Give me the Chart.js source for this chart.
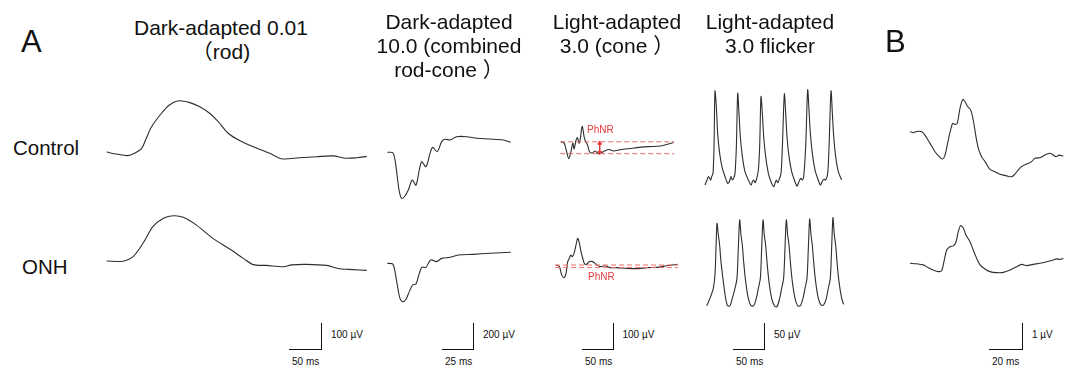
<!DOCTYPE html>
<html>
<head>
<meta charset="utf-8">
<script src="https://cdn.jsdelivr.net/npm/chart.js@4.4.1/dist/chart.umd.min.js"></script>
<style>
  body { margin: 0; background: #fff; }
  #fig { position: relative; width: 1070px; height: 368px; overflow: hidden;
         font-family: "Liberation Sans", Arial, "Noto Sans CJK SC", sans-serif; color: #111; }
  .txt { position: absolute; white-space: nowrap; }
  .title { font-size: 21px; line-height: 24px; text-align: center; width: 220px; }
  .small { font-size: 10px; line-height: 12px; }
  .bar { position: absolute; background: #111; }
</style>
</head>
<body>
<div id="fig"></div>
<script>
// Dark-adapted 0.01 (rod) : ms / µV
const rodCtrlT = [0, 15, 32, 42, 53, 60, 68, 83, 95, 109, 126, 141, 156, 169, 184, 202, 222, 247, 265, 292, 318, 343, 361, 379, 394];
const rodCtrlV = [0, -8, -14, -5, 14, 53, 97, 149, 181, 197, 190, 174, 149, 117, 72, 43, 20, -5, -26, -22, -18, -15, -24, -22, -17];
const rodOnhT = [0, 25, 40, 55, 70, 86, 101, 116, 136, 161, 187, 207, 222, 242, 268, 280, 303, 333, 353, 373, 394];
const rodOnhV = [0, -1, 17, 68, 132, 164, 174, 168, 138, 87, 45, 10, -14, -17, -22, -15, -13, -17, -30, -33, -36];

// Dark-adapted 10.0 (combined rod-cone)
const mixCtrlT = [0, 4.2, 6, 7.8, 9.4, 11.2, 13.8, 16.4, 19.5, 22.4, 25, 26.9, 30.2, 33.4, 35.4, 39, 42.5, 45, 49, 54.2, 62, 69.8, 80.2, 90.6, 96.4];
const mixCtrlV = [0, -3, -59, -188, -303, -354, -336, -290, -213, -252, -136, -72, -111, -8, 38, 5, 82, 100, 95, 120, 120, 108, 102, 95, 77];
const mixOnhT = [0, 4.2, 6, 7.8, 9.9, 12, 14.6, 17.2, 19.8, 22.4, 25, 26.9, 30.2, 32.8, 34.6, 38.5, 42.5, 49, 55.5, 67.2, 80.2, 96.4];
const mixOnhV = [0, -5, -64, -167, -270, -296, -277, -218, -167, -159, -77, -31, -31, 13, 26, 13, 38, 46, 64, 69, 77, 85];

// Light-adapted 3.0 (cone)
const coneCtrlT = [0, 5.3, 9.5, 13.2, 16.9, 20, 22.3, 25.4, 28, 30.7, 32.8, 36, 39.7, 42.3, 45, 48.7, 53, 58.2, 63.5, 68.8, 74.1, 82, 90, 100.6, 121.8, 148.3, 169.5, 192.3];
const coneCtrlV = [0, -6, -45, -77, -45, -6, -32, 6, 19, -6, 13, 71, 19, 0, -13, -45, -51, -42, -54, -51, -42, -35, -42, -36, -29, -22, -19, -3];
const coneOnhT = [0, 5.3, 9, 12.7, 15.9, 18.6, 21.2, 23.3, 25.9, 28.6, 31.8, 34.4, 37.1, 39.7, 42.4, 45, 48.7, 53, 58.3, 63.6, 69.9, 77.9, 85.9, 96.5, 112.4, 128.3, 144.2, 160.1, 176, 193.5];
const coneOnhV = [0, -6, -38, -49, -32, 13, 26, 38, 32, 45, 77, 103, 84, 51, 26, 6, 3, 13, 13, 3, -6, -3, -10, -10, -13, -14, -10, -9, -3, 3];
const phnrCtrlLevels = [0, -54];
const phnrOnhLevels = [0, -10];
const phnrSpan = [-1.5, 193.5];
const phnrArrowT = 66;

// Light-adapted 3.0 flicker
const flkCtrlT = [0, 3.1, 5.2, 7.3, 8.9, 10.4, 12.5, 14.1, 15.6, 17.7, 19.8, 22.9, 27.1, 31.3, 35.4, 38, 40.6, 42.7, 44.8, 46.9, 49, 51.1, 53.1, 55.2, 58.4, 62.5, 67.7, 71.9, 74, 76.1, 78.1, 80.2, 83.4, 85.4, 87.5, 89.6, 91.7, 94.8, 99, 103.1, 107.3, 109.4, 111.5, 113.6, 115.6, 118.8, 120.9, 124, 126.1, 128.1, 131.3, 135.4, 139.6, 143.8, 145.9, 147.9, 150, 152.1, 154.2, 157.3, 160.4, 162.5, 164.6, 167.7, 171.9, 176, 180.2, 182.3, 184.4, 186.5, 188.6, 191.7, 193.8, 196.9, 199, 201.1, 204.2, 208.3, 213.5];
const flkCtrlV = [0, 9.6, 16, 12.8, 9.6, 16, 22.4, 73.7, 180.7, 150.6, 99.3, 60.9, 32, 16, 3.2, 6.4, 16, 9.6, 12.8, 22.4, 73.7, 176.3, 137.8, 92.9, 54.5, 25.6, 9.6, 0, 6.4, 9.6, 4.5, 9.6, 28.8, 73.7, 169.9, 137.8, 92.9, 54.5, 22.4, 6.4, -3.2, 3.2, 9.6, 4.5, 9.6, 22.4, 73.7, 175, 137.8, 92.9, 54.5, 25.6, 9.6, -2, 3.2, 9.6, 12.8, 9.6, 16, 73.7, 182.7, 144.2, 99.3, 60.9, 28.8, 12.8, 0, 4.5, 9.6, 10.9, 9.6, 22.4, 73.7, 180.7, 137.8, 92.9, 54.5, 25.6, 9.6];
const flkOnhT = [0, 5.1, 10.3, 12.9, 14.5, 16.1, 18.2, 20.2, 22.3, 26, 29.6, 32.7, 36.4, 40, 44.2, 47.3, 49.4, 51.5, 53.6, 55.7, 57.7, 60.9, 65, 69.2, 73.4, 77.5, 80.7, 83.8, 85.9, 88, 90, 92.1, 94.2, 97.3, 101.5, 105.7, 109.8, 114, 117.1, 120.2, 122.3, 124.4, 126.5, 128.6, 130.7, 133.8, 138, 142.1, 146.3, 150.4, 153.6, 156.7, 158.8, 160.9, 163, 165, 167.1, 170.2, 174.4, 178.6, 182.7, 186.9, 190, 193.1, 195.2, 197.3, 199.4, 201.5, 203.6, 206.7, 210.9, 214];
const flkOnhV = [0, 14.1, 33.4, 59, 110.3, 158.4, 135.9, 116.7, 84.7, 46.2, 14.1, 0, 0, 14.1, 33.4, 52.6, 110.3, 164.8, 135.9, 116.7, 84.7, 46.2, 14.1, 0, 0, 14.1, 33.4, 52.6, 110.3, 164.8, 135.9, 116.7, 84.7, 46.2, 14.1, 0, -1.9, 14.1, 33.4, 52.6, 110.3, 164.8, 135.9, 116.7, 84.7, 46.2, 14.1, 0, 0, 14.1, 33.4, 52.6, 110.3, 166.7, 135.9, 116.7, 84.7, 46.2, 14.1, 1.3, 1.3, 14.1, 33.4, 52.6, 110.3, 169.3, 135.9, 116.7, 84.7, 46.2, 14.1, 2.6];

// Panel B
const bCtrlT = [0, 2, 3.9, 6.9, 8.8, 11.8, 14.7, 17.2, 19.2, 20.6, 22.5, 23.9, 25.1, 26.5, 27.8, 29.4, 31, 32.3, 33.7, 35.7, 37.2, 38.8, 40.2, 42.1, 44.1, 47, 50, 52.9, 54.9, 56.8, 59.8, 61.7, 63.7, 65.7, 68.6, 71.5, 73.5, 76.4, 79.4, 82.3, 84.3, 85.8, 87.8, 90.2];
const bCtrlV = [0, -0.04, 0.01, 0, -0.13, -0.45, -0.77, -0.96, -1.05, -0.9, -0.32, 0.07, 0.32, 0.28, 0.32, 0.9, 1.24, 1.16, 0.99, 0.83, 0.45, -0.19, -0.64, -0.96, -1.15, -1.45, -1.54, -1.64, -1.67, -1.7, -1.73, -1.63, -1.47, -1.34, -1.24, -1.15, -1.02, -1, -0.9, -0.83, -0.9, -0.96, -0.9, -0.94];
const bOnhT = [0, 3.9, 7.8, 10.8, 13.7, 16.7, 18.6, 20, 21.6, 23.5, 25.5, 27.1, 28.4, 29.8, 31.4, 32.9, 35.3, 37.2, 39.2, 41.2, 44.1, 47, 51, 54.9, 58.8, 62.7, 65.7, 68.6, 72.5, 76.4, 80.4, 84.3, 86.2, 88.2, 90.2];
const bOnhV = [0, -0.02, -0.06, -0.17, -0.26, -0.32, -0.29, 0.07, 0.51, 0.64, 0.67, 0.83, 1.22, 1.45, 1.35, 1.09, 0.83, 0.51, 0.19, -0.06, -0.22, -0.32, -0.36, -0.35, -0.26, -0.13, -0.04, -0.09, -0.04, 0, 0.06, 0.13, 0.17, 0.15, 0.19];

// scale bars
const scaleMs = [50, 25, 50, 50, 20];
const scaleUv = [100, 200, 100, 50, 1];

const fig = document.getElementById('fig');
const INK = '#2e2e2e';
const RED = '#e5393a';
const PINK = '#ef6a6a';

function pts(t, v) {
    return t.map((x, i) => ({ x: x, y: v[i] }));
}

function traceSet(t, v) {
    return { data: pts(t, v), showLine: true, borderColor: INK, borderWidth: 1.1, pointRadius: 0, tension: 0.3, clip: false };
}

function dashedLevel(level) {
    return {
        data: [{ x: phnrSpan[0], y: level }, { x: phnrSpan[1], y: level }],
        showLine: true, borderColor: PINK, borderWidth: 1, borderDash: [5, 3], pointRadius: 0, clip: false
    };
}

// box = canvas position on page, origin = page pixel of (0 ms, 0 µV)
function drawTrace(box, origin, msPerPx, uvPerPx, datasets) {
    const c = document.createElement('canvas');
    c.width = box.w;
    c.height = box.h;
    c.style.cssText = `position:absolute;left:${box.x}px;top:${box.y}px;width:${box.w}px;height:${box.h}px`;
    fig.appendChild(c);
    new Chart(c, {
        type: 'scatter',
        data: { datasets: datasets },
        options: {
            responsive: false,
            animation: false,
            events: [],
            layout: { padding: 0 },
            plugins: { legend: { display: false }, tooltip: { enabled: false } },
            scales: {
                x: { type: 'linear', display: false,
                     min: (box.x - origin.x) * msPerPx, max: (box.x + box.w - origin.x) * msPerPx },
                y: { type: 'linear', display: false,
                     min: (origin.y - box.y - box.h) * uvPerPx, max: (origin.y - box.y) * uvPerPx }
            }
        }
    });
}

function text(str, left, top, cls, extra) {
    const d = document.createElement('div');
    d.className = 'txt ' + cls;
    d.textContent = str;
    d.style.left = left + 'px';
    d.style.top = top + 'px';
    if (extra) d.style.cssText += extra;
    fig.appendChild(d);
    return d;
}

// Panel 1: rod
drawTrace({ x: 95, y: 85, w: 290, h: 100 }, { x: 106.7, y: 152 }, 50 / 33, 100 / 26, [traceSet(rodCtrlT, rodCtrlV)]);
drawTrace({ x: 95, y: 200, w: 290, h: 90 }, { x: 106.7, y: 261 }, 50 / 33, 100 / 26, [traceSet(rodOnhT, rodOnhV)]);

// Panel 2: combined
drawTrace({ x: 378, y: 112, w: 145, h: 100 }, { x: 387.3, y: 152.3 }, 25 / 32, 200 / 26, [traceSet(mixCtrlT, mixCtrlV)]);
drawTrace({ x: 378, y: 232, w: 145, h: 85 }, { x: 387.3, y: 263.3 }, 25 / 32, 200 / 26, [traceSet(mixOnhT, mixOnhV)]);

// Panel 3: cone with PhNR marks
drawTrace({ x: 548, y: 110, w: 140, h: 65 }, { x: 556.7, y: 141.7 }, 50 / 31.5, 100 / 26, [
    dashedLevel(phnrCtrlLevels[0]),
    dashedLevel(phnrCtrlLevels[1]),
    {
        data: [{ x: phnrArrowT, y: phnrCtrlLevels[0] - 6 }, { x: phnrArrowT, y: phnrCtrlLevels[1] + 6 }],
        showLine: true, borderColor: RED, borderWidth: 1, pointStyle: 'triangle', pointRadius: 2.2,
        pointRotation: [0, 180], pointBackgroundColor: RED, pointBorderColor: RED, clip: false
    },
    traceSet(coneCtrlT, coneCtrlV)
]);
drawTrace({ x: 548, y: 228, w: 140, h: 60 }, { x: 556, y: 265 }, 50 / 31.5, 100 / 26, [
    dashedLevel(phnrOnhLevels[0]),
    dashedLevel(phnrOnhLevels[1]),
    traceSet(coneOnhT, coneOnhV)
]);
text('PhNR', 587, 124, 'small', `color:${RED};font-size:10px;`);
text('PhNR', 588, 271, 'small', `color:${RED};font-size:10px;`);

// Panel 4: flicker
drawTrace({ x: 695, y: 80, w: 165, h: 115 }, { x: 705, y: 185 }, 50 / 32, 50 / 26, [traceSet(flkCtrlT, flkCtrlV)]);
drawTrace({ x: 695, y: 212, w: 165, h: 105 }, { x: 706.7, y: 305.7 }, 50 / 32, 50 / 26, [traceSet(flkOnhT, flkOnhV)]);

// Panel B
drawTrace({ x: 898, y: 88, w: 172, h: 100 }, { x: 910, y: 131.7 }, 20 / 34, 1 / 26, [traceSet(bCtrlT, bCtrlV)]);
drawTrace({ x: 898, y: 212, w: 172, h: 75 }, { x: 910, y: 263.3 }, 20 / 34, 1 / 26, [traceSet(bOnhT, bOnhV)]);

// titles
text('', 111, 16, 'title').innerHTML = 'Dark-adapted 0.01<br>（rod)';
text('', 339, 10, 'title').innerHTML = 'Dark-adapted<br>10.0 (combined<br>rod-cone ）';
text('', 507, 10, 'title').innerHTML = 'Light-adapted<br>3.0 (cone ）';
text('', 660, 10, 'title').innerHTML = 'Light-adapted<br>3.0 flicker';

text('A', 21, 24, '', 'font-size:31px;line-height:36px;');
text('B', 885, 24, '', 'font-size:31px;line-height:36px;');
text('Control', 13, 136, '', 'font-size:20.5px;line-height:24px;');
text('ONH', 22, 255, '', 'font-size:20.5px;line-height:24px;');

// scale bars
const barLeft = [289, 442, 582, 733, 989];
const barWidth = [33, 32, 31.5, 32, 34];
scaleMs.forEach((ms, i) => {
    const x = barLeft[i], w = barWidth[i];
    const h = document.createElement('div');
    h.className = 'bar';
    h.style.cssText = `left:${x}px;top:349px;width:${w}px;height:1px;`;
    fig.appendChild(h);
    const v = document.createElement('div');
    v.className = 'bar';
    v.style.cssText = `left:${x + w - 1}px;top:323px;width:1px;height:27px;`;
    fig.appendChild(v);
    text(`${scaleUv[i]} µV`, x + w + 9, 329, 'small');
    text(`${ms} ms`, x + 3, 356, 'small');
});
</script>
</body>
</html>
